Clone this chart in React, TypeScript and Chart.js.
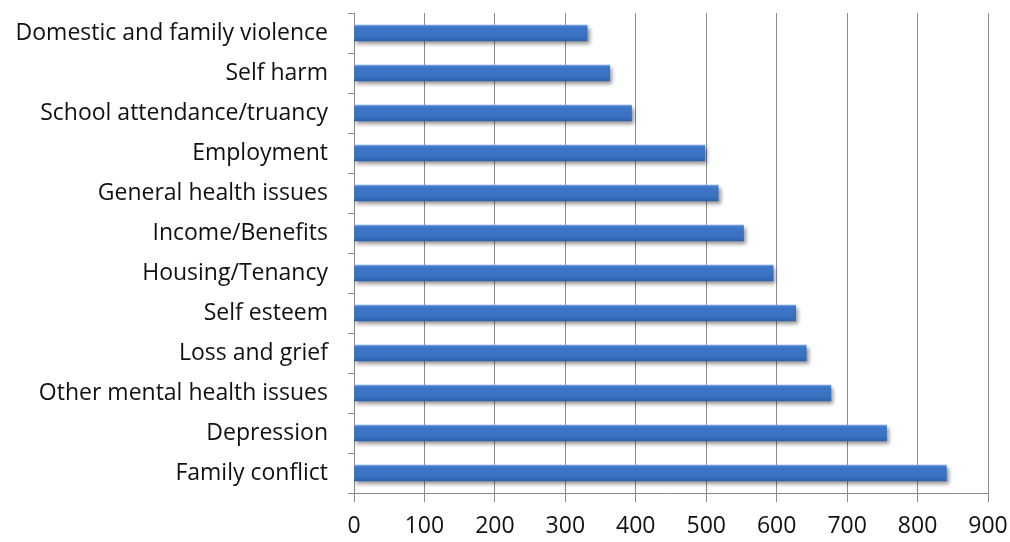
import React, { useEffect, useRef } from "react";
import { Chart, registerables } from "chart.js";

Chart.register(...registerables);

// Issue categories, listed top to bottom
const categories: string[] = [
  "Domestic and family violence",
  "Self harm",
  "School attendance/truancy",
  "Employment",
  "General health issues",
  "Income/Benefits",
  "Housing/Tenancy",
  "Self esteem",
  "Loss and grief",
  "Other mental health issues",
  "Depression",
  "Family conflict",
];

// Number of clients per issue
const counts: number[] = [331, 363, 394, 498, 517, 553, 595, 627, 642, 677, 756, 841];

// Horizontal axis range
const xMin = 0;
const xMax = 900;
const xStep = 100;

const FONT = "'Open Sans', Lato, sans-serif";
const GRID = "#8a8a8a";
const BAR = "#3a71c1";
const TEXT = "#111111";

// Soft drop shadow underneath the bars
const barShadow = {
  id: "barShadow",
  beforeDatasetsDraw(chart: any) {
    const ctx = chart.ctx;
    ctx.save();
    ctx.shadowColor = "rgba(0,0,0,0.42)";
    ctx.shadowBlur = 4;
    ctx.shadowOffsetX = 2;
    ctx.shadowOffsetY = 3;
  },
  afterDatasetsDraw(chart: any) {
    chart.ctx.restore();
  },
};

// Vertical shading on each bar: light top edge, darker bottom
function barFill(c: any) {
  const chartObj = c.chart;
  const yScale = chartObj.scales?.y;
  if (!yScale || c.dataIndex === undefined) return BAR;
  const cy = yScale.getPixelForValue(c.dataIndex);
  if (!Number.isFinite(cy)) return BAR;
  const g = chartObj.ctx.createLinearGradient(0, cy - 8, 0, cy + 8);
  g.addColorStop(0, "#74a5e4");
  g.addColorStop(0.12, "#3e77c8");
  g.addColorStop(0.7, BAR);
  g.addColorStop(1, "#2e60ab");
  return g;
}

export default function App() {
  const canvasRef = useRef<HTMLCanvasElement | null>(null);

  useEffect(() => {
    if (!canvasRef.current) return;
    const chart = new Chart(canvasRef.current, {
      type: "bar",
      data: {
        labels: categories,
        datasets: [
          {
            data: counts,
            barThickness: 16,
            borderWidth: 0,
            backgroundColor: barFill,
          },
        ],
      },
      options: {
        indexAxis: "y",
        animation: false,
        responsive: false,
        maintainAspectRatio: false,
        layout: { padding: { left: 0, top: 13, right: 22, bottom: 0 } },
        plugins: {
          legend: { display: false },
          tooltip: { enabled: false },
        },
        scales: {
          x: {
            min: xMin,
            max: xMax,
            ticks: {
              stepSize: xStep,
              color: TEXT,
              font: { family: FONT, size: 23 },
              padding: 11,
            },
            grid: {
              color: GRID,
              lineWidth: 1,
              tickLength: 9,
              drawTicks: true,
            },
            border: { color: GRID, width: 1 },
            afterFit: (s: any) => {
              s.height = 49;
              s.paddingLeft = 0;
              s.paddingRight = 0;
            },
          },
          y: {
            ticks: {
              color: TEXT,
              font: { family: FONT, size: 23 },
              padding: 20,
            },
            grid: {
              drawOnChartArea: false,
              offset: true,
              color: GRID,
              tickLength: 6,
            },
            border: { color: GRID, width: 1 },
            afterFit: (s: any) => {
              s.width = 354;
              s.paddingTop = 0;
              s.paddingBottom = 0;
            },
          },
        },
      },
      plugins: [barShadow],
    });
    chart.update();
    return () => chart.destroy();
  }, []);

  return (
    <div style={{ position: "fixed", left: 0, top: 0, width: 1010, height: 542, background: "#ffffff" }}>
      <canvas ref={canvasRef} width={1010} height={542} style={{ display: "block" }} />
    </div>
  );
}
